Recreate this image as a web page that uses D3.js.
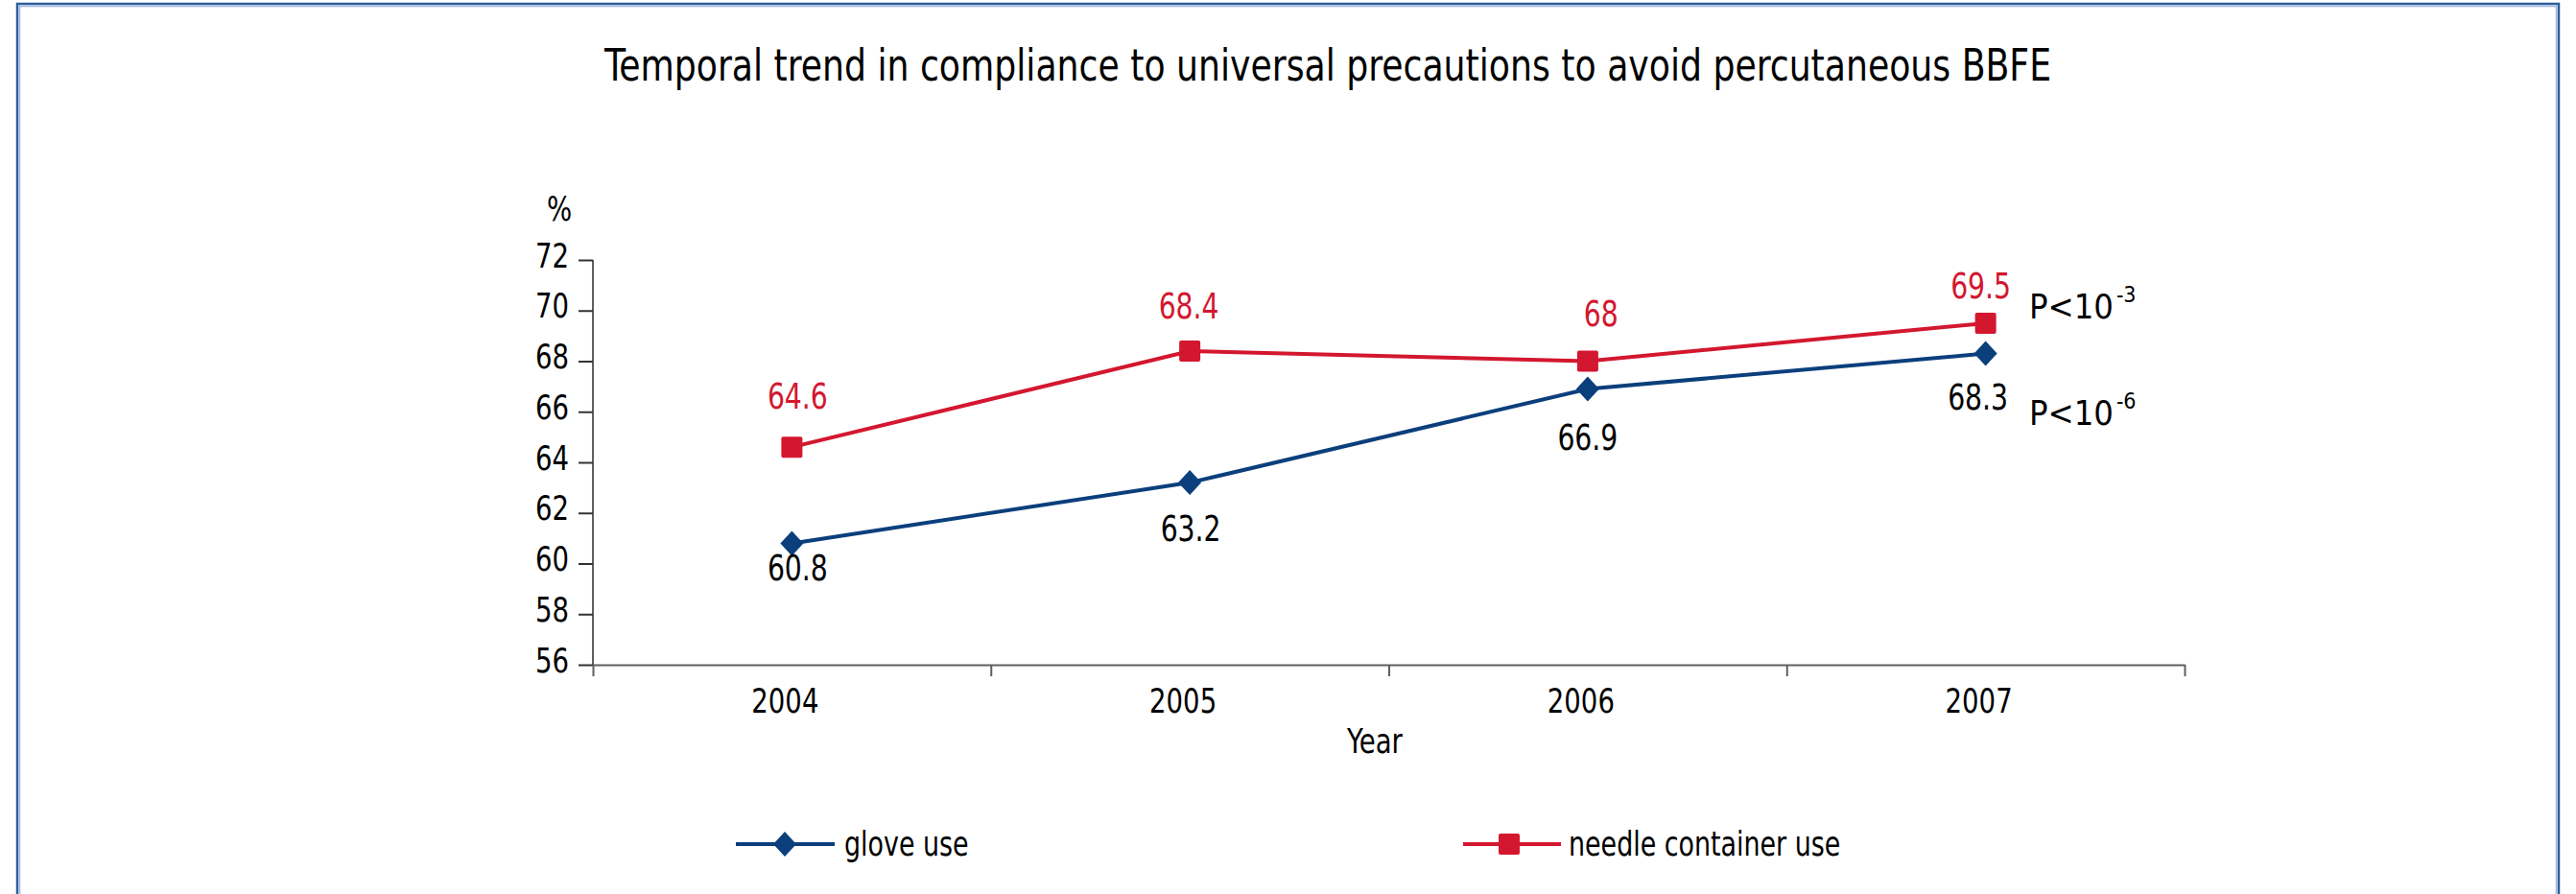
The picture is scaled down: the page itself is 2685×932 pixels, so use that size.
<!DOCTYPE html>
<html>
<head>
<meta charset="utf-8">
<script src="https://cdn.jsdelivr.net/npm/d3@7/dist/d3.min.js"></script>
<style>
  html, body { margin: 0; padding: 0; background: #fff; }
  svg text { font-family: 'Liberation Sans Narrow', 'DejaVu Sans Condensed', 'Arial Narrow', sans-serif; font-stretch: condensed; }
</style>
</head>
<body>
<svg id="chart" width="2685" height="932"></svg>
<script>
// ---------------- data ----------------
const years = ["2004", "2005", "2006", "2007"];
const gloveUse = [60.8, 63.2, 66.9, 68.3];
const needleContainerUse = [64.6, 68.4, 68, 69.5];
const yTicks = [56, 58, 60, 62, 64, 66, 68, 70, 72];
const seriesNames = ["glove use", "needle container use"];
const pValues = ["-3", "-6"];
const titleText = "Temporal trend in compliance to universal precautions to avoid percutaneous BBFE";

// ---------------- layout / style ----------------
const W = 2685, H = 932;
const plot = { left: 618, right: 2277, top: 271, bottom: 693 };
const colors = { glove: "#0b3f7c", needle: "#d3172f", axis: "#5f5f5f" };
const labelOffsets = {
  needle: [[6, -53], [-1, -47], [14, -50], [-5, -39]],
  glove:  [[6, 26], [1, 48], [0, 50], [-8, 45]]
};
const narrow = 0.85; // horizontal condensing of text to match the condensed face

const svg = d3.select("#chart");

function fit(sel, f) {
  sel.each(function () {
    const w = this.getComputedTextLength();
    d3.select(this).attr("textLength", w * f).attr("lengthAdjust", "spacingAndGlyphs");
  });
  return sel;
}

// outer frame
svg.append("path")
  .attr("d", `M18,${H + 10} V4 H2667 V${H + 10}`)
  .attr("fill", "none").attr("stroke", "#2d5d9c").attr("stroke-width", 2.5);
svg.append("path")
  .attr("d", `M20.5,${H + 10} V6.5 H2664.5 V${H + 10}`)
  .attr("fill", "none").attr("stroke", "#9bb8dc").attr("stroke-width", 1.5);

// title
fit(svg.append("text")
  .attr("x", 1384).attr("y", 84)
  .attr("text-anchor", "middle")
  .attr("font-size", 46)
  .attr("fill", "#000")
  .text(titleText), 0.875);

// scales
const x = d3.scaleBand().domain(years).range([plot.left, plot.right]).padding(0);
const xBound = d3.scaleLinear().domain([0, years.length]).range([plot.left, plot.right]);
const y = d3.scaleLinear().domain([56, 72]).range([plot.bottom, plot.top]);
const cx = d => x(d) + x.bandwidth() / 2;

// y axis
const yAxis = svg.append("g")
  .attr("transform", `translate(${plot.left},0)`)
  .call(d3.axisLeft(y).tickValues(yTicks).tickSize(15).tickPadding(10).tickFormat(d3.format("d")));
yAxis.select(".domain").attr("stroke", colors.axis).attr("stroke-width", 2)
  .attr("d", `M0,${plot.top}V${plot.bottom}`);
yAxis.selectAll(".tick line").attr("stroke", "#333").attr("stroke-width", 2);
fit(yAxis.selectAll(".tick text").attr("font-size", 36).attr("fill", "#000").attr("dy", 7), narrow);

// x axis (boundary ticks)
const xAxis = svg.append("g")
  .attr("transform", `translate(0,${plot.bottom})`)
  .call(d3.axisBottom(xBound).tickValues(d3.range(0, years.length + 1)).tickSize(12).tickSizeOuter(0).tickFormat(""));
xAxis.select(".domain").attr("stroke", colors.axis).attr("stroke-width", 2);
xAxis.selectAll(".tick line").attr("stroke", colors.axis).attr("stroke-width", 2);
xAxis.selectAll(".tick text").remove();

// x category labels
fit(svg.append("g").selectAll("text").data(years).join("text")
  .attr("x", d => cx(d) - 7)
  .attr("y", 743)
  .attr("text-anchor", "middle")
  .attr("font-size", 36)
  .attr("fill", "#000")
  .text(d => d), narrow);

// axis titles
fit(svg.append("text").attr("x", 583).attr("y", 230).attr("text-anchor", "middle")
  .attr("font-size", 36).attr("fill", "#000").text("%"), narrow);
fit(svg.append("text").attr("x", 1433).attr("y", 785).attr("text-anchor", "middle")
  .attr("font-size", 36).attr("fill", "#000").text("Year"), narrow);

// lines
const line = d3.line().x((d, i) => cx(years[i])).y(d => y(d));
svg.append("path").datum(needleContainerUse).attr("d", line)
  .attr("fill", "none").attr("stroke", colors.needle).attr("stroke-width", 4);
svg.append("path").datum(gloveUse).attr("d", line)
  .attr("fill", "none").attr("stroke", colors.glove).attr("stroke-width", 4);

// markers
const squareSize = 22;
function square(g, px, py, color) {
  g.append("rect").attr("x", px - squareSize / 2).attr("y", py - squareSize / 2)
    .attr("width", squareSize).attr("height", squareSize).attr("rx", 2)
    .attr("fill", color);
}
function diamond(g, px, py, color) {
  g.append("path").attr("d", `M${px},${py - 13}L${px + 12},${py}L${px},${py + 13}L${px - 12},${py}Z`)
    .attr("fill", color);
}
const mk = svg.append("g");
needleContainerUse.forEach((v, i) => square(mk, cx(years[i]), y(v), colors.needle));
gloveUse.forEach((v, i) => diamond(mk, cx(years[i]), y(v), colors.glove));

// data labels
const lab = svg.append("g").attr("text-anchor", "middle").attr("font-size", 37);
fit(lab.selectAll(".nl").data(needleContainerUse).join("text").attr("class", "nl")
  .attr("x", (d, i) => cx(years[i]) + labelOffsets.needle[i][0])
  .attr("y", (d, i) => y(d) + labelOffsets.needle[i][1] + 13)
  .attr("fill", colors.needle)
  .text(d => d), narrow);
fit(lab.selectAll(".gl").data(gloveUse).join("text").attr("class", "gl")
  .attr("x", (d, i) => cx(years[i]) + labelOffsets.glove[i][0])
  .attr("y", (d, i) => y(d) + labelOffsets.glove[i][1] + 13)
  .attr("fill", "#000")
  .text(d => d), narrow);

// p-value annotations
const pY = [332, 443];
pValues.forEach((p, i) => {
  const base = svg.append("text").attr("x", 2115).attr("y", pY[i])
    .attr("font-size", 36).attr("fill", "#000").text("P<10");
  const w = base.node().getComputedTextLength();
  svg.append("text").attr("x", 2115 + w + 3).attr("y", pY[i] - 17)
    .attr("font-size", 23).attr("fill", "#000").text(p);
});

// legend
const legendItems = [
  { name: seriesNames[0], color: colors.glove, x1: 767, x2: 870, mx: 818, tx: 880, shape: "diamond" },
  { name: seriesNames[1], color: colors.needle, x1: 1525, x2: 1627, mx: 1573, tx: 1635, shape: "square" }
];
const legY = 880;
const lg = svg.append("g");
legendItems.forEach(it => {
  lg.append("line").attr("x1", it.x1).attr("x2", it.x2).attr("y1", legY).attr("y2", legY)
    .attr("stroke", it.color).attr("stroke-width", 4);
  if (it.shape === "diamond") diamond(lg, it.mx, legY, it.color); else square(lg, it.mx, legY, it.color);
  fit(lg.append("text")
    .attr("x", it.tx).attr("y", legY + 12).attr("font-size", 36).attr("fill", "#000").text(it.name), 0.83);
});
</script>
</body>
</html>
